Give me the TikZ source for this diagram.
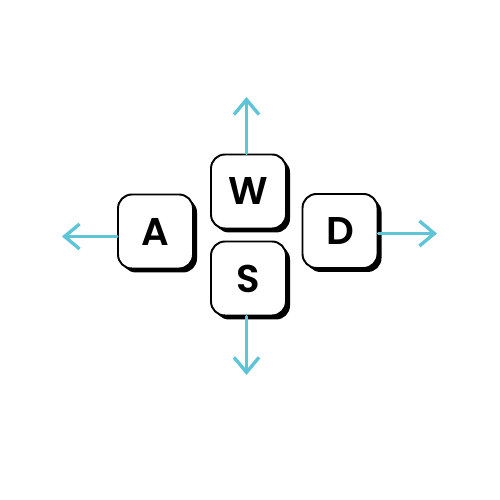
\documentclass[tikz,border=0pt]{standalone}
\usepackage{fontspec}
\setsansfont{Poppins}[BoldFont={Poppins SemiBold}]
\usepackage{tikz}
\usetikzlibrary{arrows.meta,shadows}

\definecolor{arrowblue}{RGB}{94,197,216}

\begin{document}
\begin{tikzpicture}[
	key/.style={shape=rectangle,draw=black,line width=1.1pt,rounded corners=0.28cm,
		fill=white,minimum width=1.5cm,minimum height=1.48cm,
		font=\sffamily\bfseries\fontsize{22}{26}\selectfont,
		drop shadow={shadow xshift=0.08cm,shadow yshift=-0.08cm,fill=black,opacity=1}},
	move/.style={draw=arrowblue,line width=1.9pt,line cap=round,
		-{Straight Barb[length=0.3cm,width=0.5cm,line width=1.9pt]}}]
	\fill[white] (0,0) rectangle (10,10);

	\node[key] (w) at (4.97, 6.17)     {W};
	\node[key] (s) at (4.97, 4.43)     {S};
	\node[key] (a) at (3.11, 5.37)     {A};
	\node[key] (d) at (6.80, 5.38)     {D};

	\coordinate (up)    at (4.93, 8.06);
	\coordinate (down)  at (4.93, 2.50);
	\coordinate (left)  at (1.24, 5.27);
	\coordinate (right) at (8.74, 5.33);

	\draw[move] (w.north -| up) -- (up);
	\draw[move] (s.south -| down) -- (down);
	\draw[move] (a.west |- left) -- (left);
	\draw[move] (d.east |- right) -- (right);
\end{tikzpicture}
\end{document}
